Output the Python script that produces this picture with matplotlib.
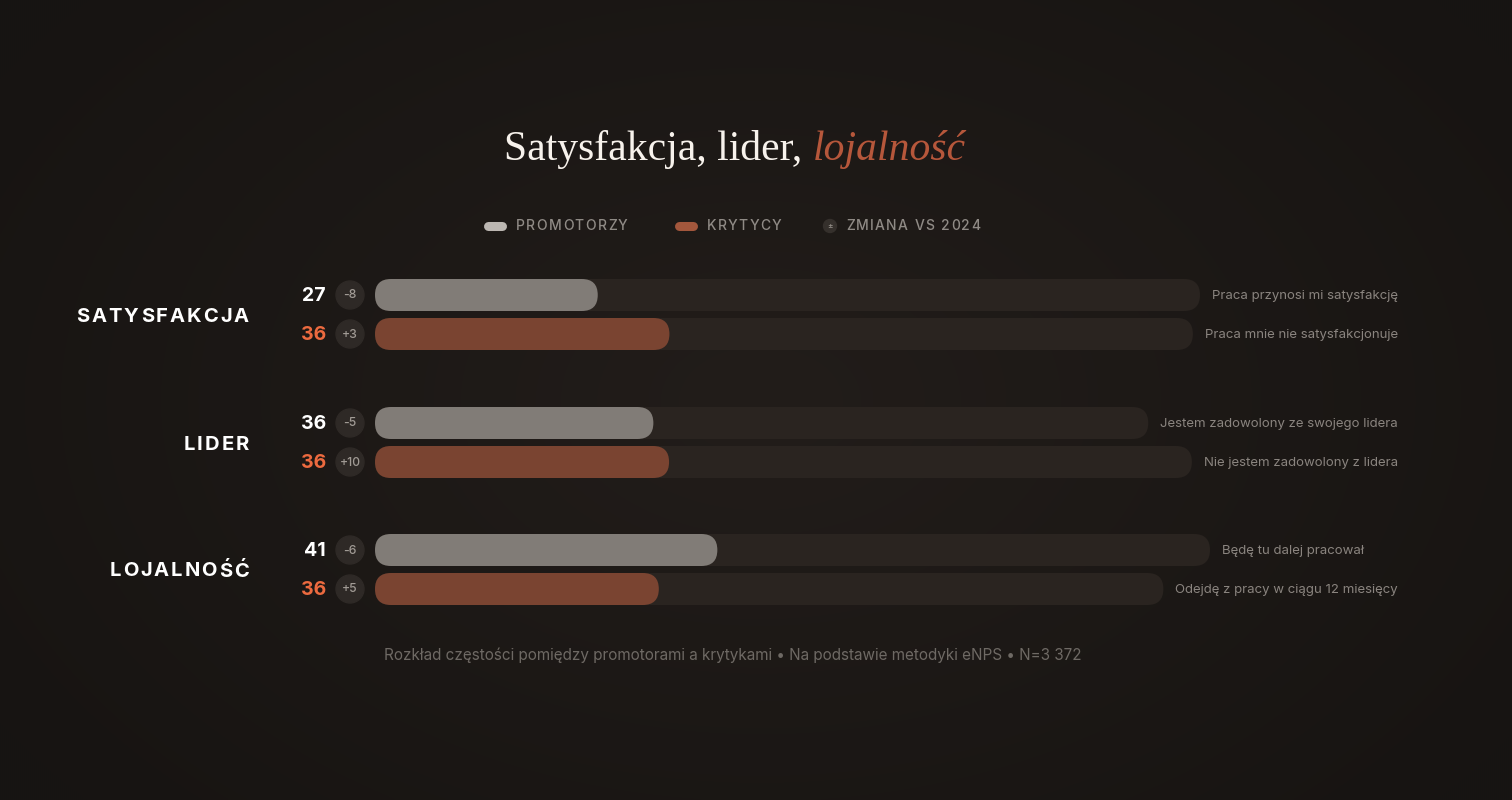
import numpy as np
import matplotlib
matplotlib.use("Agg")
import matplotlib.pyplot as plt
from matplotlib.patches import FancyBboxPatch, Circle

# data
groups = ["SATYSFAKCJA", "LIDER", "LOJALNOŚĆ"]
promoters = [27, 36, 41]
critics = [36, 36, 36]
promoter_change = [-8, -5, -6]
critic_change = [3, 10, 5]
promoter_labels = ["Praca przynosi mi satysfakcję",
                   "Jestem zadowolony ze swojego lidera",
                   "Będę tu dalej pracował"]
critic_labels = ["Praca mnie nie satysfakcjonuje",
                 "Nie jestem zadowolony z lidera",
                 "Odejdę z pracy w ciągu 12 miesięcy"]
legend_items = ["PROMOTORZY", "KRYTYCY", "ZMIANA VS 2024"]
footer = "Rozkład częstości pomiędzy promotorami a krytykami • Na podstawie metodyki eNPS • N=3 372"

# colours
BG_CENTER = np.array([0x22, 0x1d, 0x1a]) / 255
BG_EDGE = np.array([0x17, 0x14, 0x12]) / 255
TRACK = "#2a2420"
PROMO = "#817c77"
CRIT = "#7a4431"
ORANGE = "#ec6a3f"
TITLE_ACCENT = "#b6573b"
BADGE = "#2e2926"
SANS = ["Inter", "DejaVu Sans"]
SERIF = ["Liberation Serif", "DejaVu Serif"]

W, H = 1512, 800
fig = plt.figure(figsize=(W / 100, H / 100), dpi=100)
ax = fig.add_axes([0, 0, 1, 1])
ax.set_xlim(0, W)
ax.set_ylim(H, 0)
ax.axis("off")

# background radial glow
yy, xx = np.mgrid[0:H:2, 0:W:2]
d = np.sqrt(((xx - 760) / 900) ** 2 + ((yy - 400) / 600) ** 2)
d = np.clip(d, 0, 1)[..., None]
bg = BG_CENTER * (1 - d) + BG_EDGE * d
ax.imshow(bg, extent=[0, W, H, 0], aspect="auto", zorder=0, interpolation="bilinear")

fig.canvas.draw()
renderer = fig.canvas.get_renderer()


def text_width(s, **kw):
    t = ax.text(0, 0, s, **kw)
    w = t.get_window_extent(renderer).width
    t.remove()
    return w


def tracked(x, y, s, spacing, ha="left", **kw):
    widths = []
    for ch in s:
        if ch == " ":
            widths.append(text_width("x x", **kw) - text_width("xx", **kw))
        else:
            widths.append(text_width(ch, **kw))
    total = sum(widths) + spacing * (len(s) - 1)
    if ha == "right":
        x = x - total
    elif ha == "center":
        x = x - total / 2
    for ch, w in zip(s, widths):
        if ch != " ":
            ax.text(x, y, ch, ha="left", va="center", **kw)
        x += w + spacing
    return total


# title
title_kw = dict(fontsize=30, family=SERIF, va="baseline")
part1 = "Satysfakcja, lider, "
part2 = "lojalność"
w1 = text_width(part1, **title_kw)
w2 = text_width(part2, style="italic", **title_kw)
tx = 735 - (w1 + w2) / 2
ax.text(tx, 160, part1, color="#f7f2ec", ha="left", **title_kw)
ax.text(tx + w1, 160, part2, color=TITLE_ACCENT, style="italic", ha="left", **title_kw)

# legend
leg_kw = dict(fontsize=10, family=SANS, color="#8f8a85", fontweight="medium")
ly = 226
ax.plot([488, 502], [ly, ly], color="#bcb7b2", lw=6.5, solid_capstyle="round")
tracked(516, ly, legend_items[0], 1.4, **leg_kw)
ax.plot([679, 693], [ly, ly], color="#a3573c", lw=6.5, solid_capstyle="round")
tracked(707, ly, legend_items[1], 1.2, **leg_kw)
ax.add_patch(Circle((830, ly), 6.5, color="#35302c", zorder=2))
ax.text(830, ly, "±", fontsize=6, color="#9a958f", ha="center", va="center",
        family=SANS, zorder=3)
tracked(846, ly, legend_items[2], 1.3, **leg_kw)

# rows
bar_x = 375
bar_h = 32
row_centers = [(295, 334), (423, 462), (550, 589)]
label_right = 1398
label_min_w = 176
lab_kw = dict(fontsize=9.5, family=SANS, color="#8a847f")

for i, grp in enumerate(groups):
    yp, yc = row_centers[i]
    tracked(249, (yp + yc) / 2 + 2, grp, 2.0, ha="right", fontsize=14.5,
            family=SANS, fontweight="bold", color="#ffffff")
    rows = [(yp, promoters[i], promoter_change[i], promoter_labels[i], PROMO, "#ffffff"),
            (yc, critics[i], critic_change[i], critic_labels[i], CRIT, ORANGE)]
    for y, val, chg, lab, col, numcol in rows:
        lw = max(text_width(lab, **lab_kw), label_min_w)
        lx = label_right - lw
        ax.text(lx, y + 1, lab, ha="left", va="center", **lab_kw)
        track_end = lx - 12
        track_w = track_end - bar_x
        ax.add_patch(FancyBboxPatch((bar_x, y - bar_h / 2), track_w, bar_h,
                                    boxstyle="round,pad=0,rounding_size=16",
                                    fc=TRACK, ec="none", zorder=2))
        ax.add_patch(FancyBboxPatch((bar_x, y - bar_h / 2), track_w * val / 100, bar_h,
                                    boxstyle="round,pad=0,rounding_size=16",
                                    fc=col, ec="none", zorder=3))
        ax.text(326, y + 1, str(val), ha="right", va="center", fontsize=14,
                family=SANS, fontweight="bold", color=numcol)
        ax.add_patch(Circle((350, y), 14, color=BADGE, zorder=2))
        sign = "+" if chg > 0 else "-"
        ax.text(350, y + 0.5, f"{sign}{abs(chg)}", ha="center", va="center",
                fontsize=8.8, family=SANS, fontweight="medium", color="#a19b95", zorder=3)

# footer
ax.text(733, 655, footer, ha="center", va="center", fontsize=11,
        family=SANS, color="#6e6964")

fig.savefig("out.png", dpi=100)
